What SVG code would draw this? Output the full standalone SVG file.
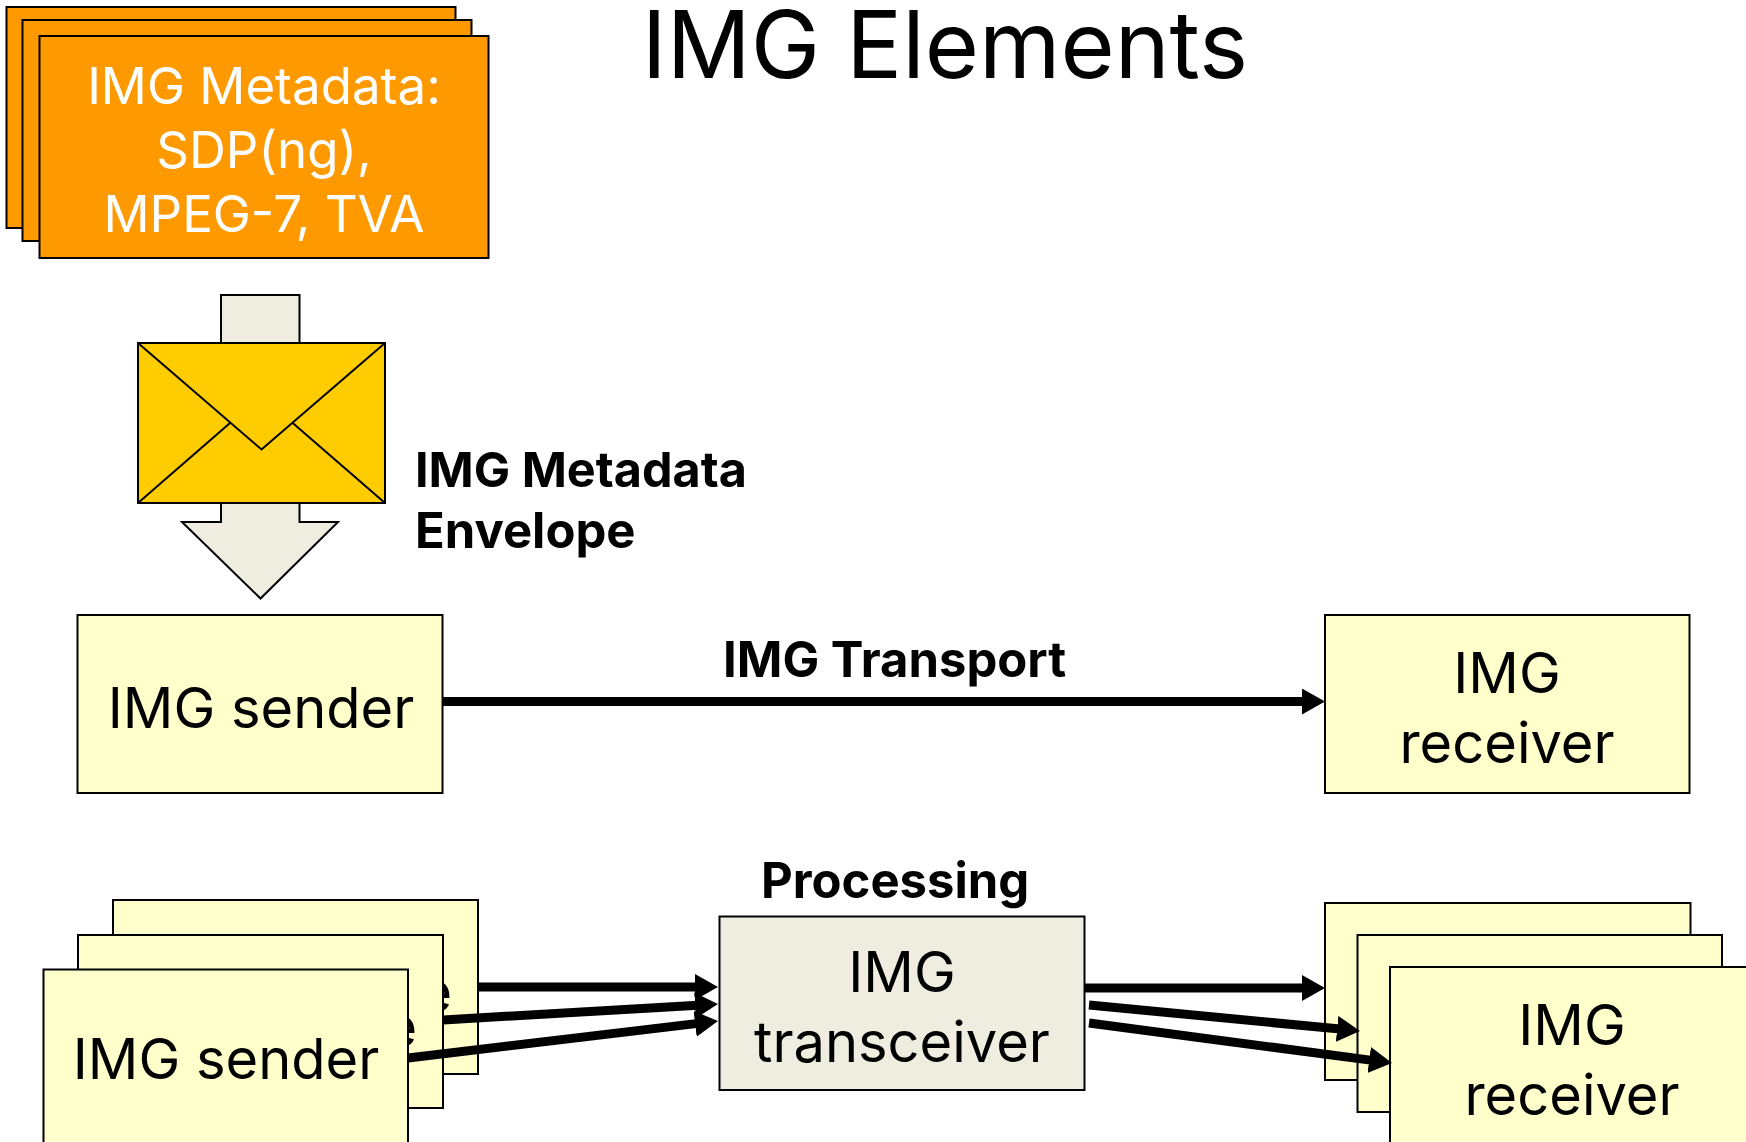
<svg xmlns="http://www.w3.org/2000/svg" width="1746" height="1142" viewBox="0 0 1746 1142">
<defs>
<marker id="ah" markerUnits="userSpaceOnUse" markerWidth="24" markerHeight="26" refX="3" refY="13" orient="auto"><path d="M0 0L23 13L0 26Z" fill="#000"/></marker>
</defs>
<style>
text{font-family:"Inter",sans-serif;text-anchor:middle;fill:#000}
.box{fill:#ffc;stroke:#000;stroke-width:2}
.gray{fill:#eeede0;stroke:#000;stroke-width:2}
.org{fill:#f90;stroke:#000;stroke-width:2}
.env{fill:#fc0;stroke:#000;stroke-width:2}
.t{font-size:56px}
.m{font-size:51px;fill:#fff}
.b{font-size:49px;font-weight:700;text-anchor:start}
.c{fill:none;stroke:#000;stroke-width:9;marker-end:url(#ah)}
</style>
<rect width="1746" height="1142" fill="#fff"/>
<text id="title" x="945" y="78" font-size="93">IMG Elements</text>
<g id="metadata">
<rect class="org" x="6.500" y="7" width="449" height="221"/>
<rect class="org" x="22.500" y="20" width="449" height="221"/>
<rect class="org" x="39.500" y="36" width="449" height="222"/>
<text class="m" x="264" y="104">IMG Metadata:</text>
<text class="m" x="264" y="168">SDP(ng),</text>
<text class="m" x="264" y="232">MPEG-7, TVA</text>
</g>
<g id="envelope">
<path class="gray" d="M221 295H299.500V522H338L260.500 598.500L182 522H221Z"/>
<rect class="env" x="138" y="343" width="247" height="160"/>
<path class="env" d="M138 343L261.500 449.500L385 343M230 423L138 503M292.700 423L385 503" style="fill:none"/>
<text class="b" x="415" y="487" style="font-size:48.500px">IMG Metadata</text>
<text class="b" x="415" y="548">Envelope</text>
</g>
<g id="sender">
<rect class="box" x="77.500" y="615" width="365" height="178"/>
<text class="t" x="261" y="728">IMG sender</text>
</g>
<g id="receiver">
<rect class="box" x="1325" y="615" width="364.500" height="178"/>
<text class="t" x="1507" y="693">IMG</text>
<text class="t" x="1507" y="763">receiver</text>
</g>
<text class="b" x="723" y="677">IMG Transport</text>
<text class="b" x="761" y="898">Processing</text>
<g id="sender-3">
<rect class="box" x="113" y="900" width="365" height="174"/>
<text class="t" x="300" y="1012">IMG source</text>
</g>
<g id="sender-2">
<rect class="box" x="78" y="935" width="365" height="173"/>
<text class="t" x="265" y="1047">IMG source</text>
</g>
<g id="sender-1">
<rect class="box" x="43.500" y="969.500" width="364.500" height="180"/>
<text class="t" x="226" y="1079">IMG sender</text>
</g>
<g id="transceiver">
<rect class="gray" x="719.500" y="916.500" width="365" height="173.500"/>
<text class="t" x="902" y="992">IMG</text>
<text class="t" x="902" y="1062">transceiver</text>
</g>
<g id="receiver-3"><rect class="box" x="1325" y="903" width="365.500" height="177"/></g>
<g id="receiver-2"><rect class="box" x="1357.500" y="935" width="364.500" height="177"/></g>
<g id="receiver-1">
<rect class="box" x="1390" y="967" width="366" height="185"/>
<text class="t" x="1572" y="1045">IMG</text>
<text class="t" x="1572" y="1115">receiver</text>
</g>
<g id="connectors">
<path class="c" d="M443 701.500H1305"/>
<path class="c" d="M478 987H698"/>
<path class="c" d="M443 1020L698 1005.200"/>
<path class="c" d="M408 1058L698.100 1023.400"/>
<path class="c" d="M1084 988H1305"/>
<path class="c" d="M1089 1005L1340.100 1029.100"/>
<path class="c" d="M1089 1023L1372.200 1060.400"/>
</g>
</svg>
